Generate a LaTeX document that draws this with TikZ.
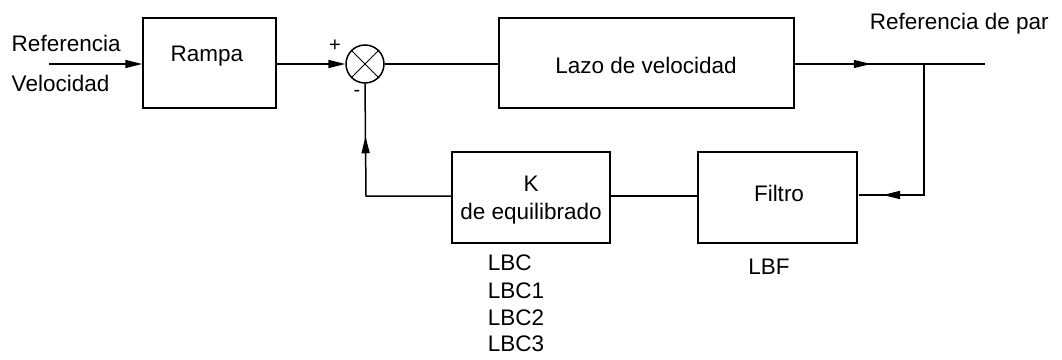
\documentclass[tikz,border=0pt]{standalone}
\usepackage{fontspec}
\setmainfont{Liberation Sans}
\usetikzlibrary{arrows.meta,decorations.markings}
\begin{document}
\begin{tikzpicture}[x=1pt,y=-1pt,
  line width=1.5pt,
  box/.style={draw, rectangle, inner sep=0pt},
  lbl/.style={inner sep=0pt, font=\fontsize{22.5}{26}\selectfont},
  sml/.style={inner sep=0pt, font=\fontsize{20}{22}\selectfont},
  arr/.style={-{Triangle[length=17pt,width=8pt]}},
  midarr/.style={postaction={decorate},
    decoration={markings, mark=at position #1 with {\arrow{Triangle[length=17pt,width=8pt]}}}},
  sumj/.style={draw, circle, inner sep=0pt, minimum size=38pt}]
\useasboundingbox (0,0) rectangle (1062,359);
% blocks
\node[box, minimum width=133pt, minimum height=90pt] (rampa) at (209.5,63) {};
\node[box, minimum width=295pt, minimum height=90pt] (lazo) at (646.5,63) {};
\node[box, minimum width=158pt, minimum height=91pt] (kbox) at (531,197.5) {};
\node[box, minimum width=159pt, minimum height=91pt] (filtro) at (777.5,197.5) {};
\node[sumj] (sum) at (365,64) {};
\draw[line width=1pt] (sum.north west) -- (sum.south east) (sum.north east) -- (sum.south west);
% texts
\node[lbl, anchor=base west] (tref) at (11,51) {Referencia};
\node[lbl, anchor=base west] (tvel) at (11,91) {Velocidad};
\node[lbl, anchor=base] (trampa) at (207,61) {Rampa};
\node[lbl, anchor=base] (tlazo) at (646,73) {Lazo de velocidad};
\node[lbl, anchor=base west] (tpar) at (869,29) {Referencia de par};
\node[lbl, anchor=base] (tk) at (531,191) {K};
\node[lbl, anchor=base] (tequ) at (531,219) {de equilibrado};
\node[lbl, anchor=base] (tfil) at (779,201) {Filtro};
\node[lbl, anchor=base] (tlbf) at (769,274) {LBF};
\node[lbl, anchor=base west] (tlbc) at (487,270) {LBC};
\node[lbl, anchor=base west] (tlbc1) at (487,298) {LBC1};
\node[lbl, anchor=base west] (tlbc2) at (487,325) {LBC2};
\node[lbl, anchor=base west] (tlbc3) at (487,351) {LBC3};
\node[sml] (plus) at (335,46) {+};
\node[sml] (minus) at (357,93) {-};
% coordinates
\coordinate (in) at (49,64);
\coordinate (branch) at (924,64);
\coordinate (out) at (985,64);
\coordinate (b2) at (924,195);
\coordinate (fin) at (859,195);
\coordinate (fb) at (366,196);
% connectors
\draw[arr] (in) -- (rampa.west |- in);
\draw[arr] (rampa.east |- in) -- (sum.west);
\draw (sum.east) -- (lazo.west |- sum.east);
\draw[midarr=76pt] (lazo.east |- out) -- (out);
\draw[midarr=172pt] (branch) -- (b2) -- (fin);
\draw (filtro.west |- fb) -- (kbox.east |- fb);
\draw[midarr=145pt] (kbox.west |- fb) -- (fb) -- (sum.south);
\end{tikzpicture}
\end{document}
